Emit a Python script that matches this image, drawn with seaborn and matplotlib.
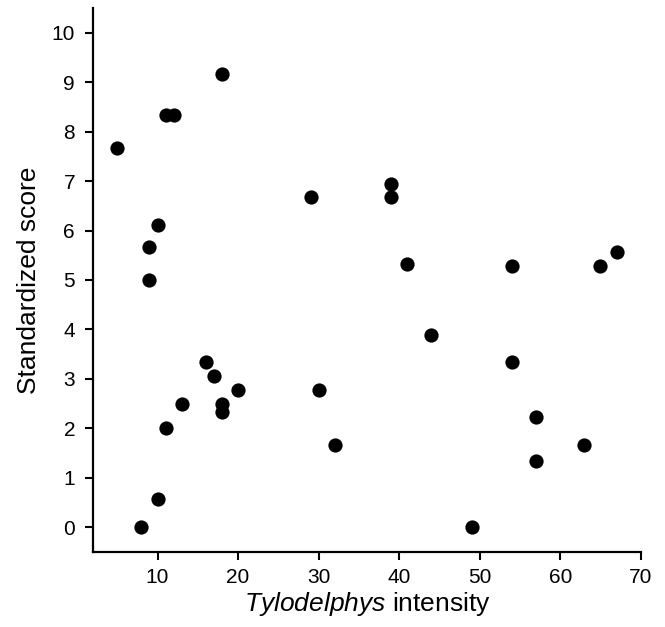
import matplotlib
matplotlib.use("Agg")
import matplotlib.pyplot as plt
import seaborn as sns
import pandas as pd

intensity = [5, 18, 11, 12, 29, 10, 9, 9,
             16, 17, 18, 18, 20, 13, 11, 10, 8, 30, 32,
             44, 54, 57, 63, 57, 49,
             39, 39, 41, 54, 65, 67]
score = [7.67, 9.17, 8.33, 8.33, 6.67, 6.11, 5.67, 5.0,
         3.33, 3.06, 2.5, 2.33, 2.78, 2.5, 2.0, 0.56, 0.0, 2.78, 1.67,
         3.89, 3.33, 2.22, 1.67, 1.33, 0.0,
         6.94, 6.67, 5.33, 5.28, 5.28, 5.56]
x_ticks = [10, 20, 30, 40, 50, 60, 70]
y_ticks = [0, 1, 2, 3, 4, 5, 6, 7, 8, 9, 10]

df = pd.DataFrame({"intensity": intensity, "score": score})

sns.set_style("ticks")
plt.rcParams['font.family'] = ['Liberation Sans', 'DejaVu Sans']
plt.rcParams['mathtext.fontset'] = 'custom'
plt.rcParams['mathtext.it'] = 'Liberation Sans:italic'
plt.rcParams['mathtext.rm'] = 'Liberation Sans'
plt.rcParams['mathtext.default'] = 'regular'
for key in ['text.color', 'axes.labelcolor', 'xtick.color', 'ytick.color',
            'xtick.labelcolor', 'ytick.labelcolor', 'axes.edgecolor']:
    plt.rcParams[key] = 'black'

fig = plt.figure(figsize=(6.65, 6.27), dpi=100)
ax = fig.add_axes([0.140, 0.120, 0.8235, 0.867])
sns.scatterplot(data=df, x="intensity", y="score", ax=ax, color="black",
                s=105, linewidth=0, zorder=3)

ax.set_xlim(2, 70)
ax.set_ylim(-0.5, 10.5)
ax.set_xticks(x_ticks)
ax.set_yticks(y_ticks)
ax.tick_params(axis='both', labelsize=15, length=6, width=1.5, direction='out',
               color='black', labelcolor='black')
ax.tick_params(axis='y', pad=7)
ax.tick_params(axis='x', pad=6)
for side in ['top', 'right']:
    ax.spines[side].set_visible(False)
for side in ['left', 'bottom']:
    ax.spines[side].set_linewidth(1.6)
    ax.spines[side].set_color('black')

ax.set_xlabel("$\\mathit{Tylodelphys}$ intensity", fontsize=19, labelpad=2, color='black')
ax.set_ylabel("Standardized score", fontsize=19, labelpad=8, color='black')

fig.savefig("out.png", dpi=100)
